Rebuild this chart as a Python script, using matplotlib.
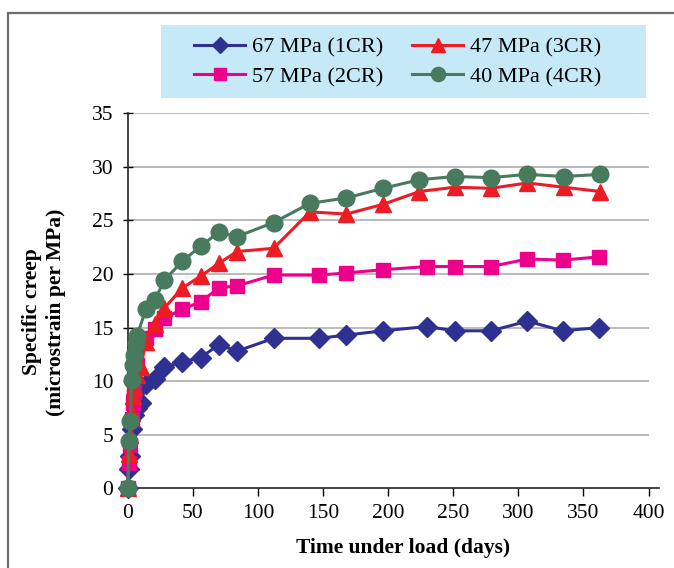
import matplotlib
matplotlib.use('Agg')
import matplotlib.pyplot as plt
from matplotlib.patches import Rectangle

plt.rcParams['font.family'] = ['Liberation Serif', 'DejaVu Serif']

# 67 MPa (1CR)
days_1cr = [0, 1, 2, 3, 5, 7, 10, 14, 21, 28, 42, 56, 70, 84, 112,
            147, 168, 196, 230, 251, 279, 307, 334, 362]
creep_1cr = [0, 1.8, 3.0, 5.5, 6.8, 7.5, 8.0, 9.7, 10.2, 11.3, 11.8, 12.2, 13.4, 12.8, 14.0,
             14.0, 14.3, 14.7, 15.1, 14.7, 14.7, 15.6, 14.7, 15.0]

# 57 MPa (2CR)
days_2cr = [0, 1, 2, 3, 4, 5, 7, 14, 21, 28, 42, 56, 70, 84, 112,
            147, 168, 196, 230, 251, 279, 307, 334, 362]
creep_2cr = [0, 2.4, 4.0, 6.5, 8.0, 9.0, 11.5, 14.0, 14.9, 15.9, 16.7, 17.4, 18.7, 18.9, 19.9,
             19.9, 20.1, 20.4, 20.7, 20.7, 20.7, 21.4, 21.3, 21.6]

# 47 MPa (3CR)
days_3cr = [0, 1, 2, 3, 4, 5, 7, 10, 14, 21, 28, 42, 56, 70, 84, 112,
            140, 168, 196, 224, 251, 279, 307, 335, 363]
creep_3cr = [0, 3.2, 5.0, 7.0, 8.6, 9.5, 10.6, 11.3, 13.7, 15.3, 16.8, 18.7, 19.8, 21.0, 22.1, 22.4,
             25.8, 25.6, 26.5, 27.7, 28.1, 28.0, 28.5, 28.1, 27.7]

# 40 MPa (4CR)
days_4cr = [0, 1, 2, 3, 4, 5, 6, 7, 14, 21, 28, 42, 56, 70, 84, 112,
            140, 168, 196, 224, 251, 279, 307, 335, 363]
creep_4cr = [0, 4.4, 6.3, 10.1, 11.5, 12.4, 13.5, 14.2, 16.7, 17.6, 19.4, 21.2, 22.6, 23.9, 23.5, 24.8,
             26.6, 27.1, 28.0, 28.8, 29.1, 29.0, 29.3, 29.1, 29.3]

labels = ['67 MPa (1CR)', '57 MPa (2CR)', '47 MPa (3CR)', '40 MPa (4CR)']
y_ticks = [0, 5, 10, 15, 20, 25, 30, 35]
x_ticks = [0, 50, 100, 150, 200, 250, 300, 350, 400]

W, H = 674, 568
fig = plt.figure(figsize=(W / 100, H / 100), dpi=100)

# grey frame round the figure, cut off at right and bottom
fig.patches.append(Rectangle((8 / W, -0.1), 1.2, 1 - 13 / H + 0.1, transform=fig.transFigure,
                             fill=False, edgecolor='#6d6d6d', linewidth=1.6))

ax = fig.add_axes([127.7 / W, 1 - 488.3 / H, (659 - 127.7) / W, (488.3 - 113.3) / H])
ax.set_xlim(0, 408)
ax.set_ylim(0, 35)

ax.hlines(y_ticks[1:], 0, 400, color='#a8a8a8', linewidth=1.1, zorder=1)

lw = 2.2
ax.plot(days_1cr, creep_1cr, color='#2e3192', marker='D', markersize=10, linewidth=lw,
        label=labels[0], clip_on=False, zorder=3)
ax.plot(days_2cr, creep_2cr, color='#ec008c', marker='s', markersize=9.5, linewidth=lw,
        label=labels[1], clip_on=False, zorder=4)
ax.plot(days_3cr, creep_3cr, color='#ed1c24', marker='^', markersize=12, linewidth=lw,
        label=labels[2], clip_on=False, zorder=5)
ax.plot(days_4cr, creep_4cr, color='#487a5e', marker='o', markersize=12, linewidth=lw,
        label=labels[3], clip_on=False, zorder=6)

for s in ['top', 'right']:
    ax.spines[s].set_visible(False)
for s in ['left', 'bottom']:
    ax.spines[s].set_color('#222222')
    ax.spines[s].set_linewidth(1.2)

ax.set_xticks(x_ticks)
ax.set_yticks(y_ticks)
ax.tick_params(axis='x', direction='out', length=5.5, width=1, pad=6, labelsize=15.5)
ax.tick_params(axis='y', direction='inout', length=6.5, width=1, pad=7, labelsize=15.5)

fig.text(403 / W, 1 - 548 / H, 'Time under load (days)', ha='center', va='center',
         fontsize=15.5, fontweight='bold')
fig.text(44 / W, 1 - 312 / H, 'Specific creep\n(microstrain per MPa)', ha='center', va='center',
         rotation=90, fontsize=15.5, fontweight='bold', linespacing=1.25)

# legend box
fig.patches.append(Rectangle((161 / W, 1 - 98 / H), (646 - 161) / W, 73 / H,
                             transform=fig.transFigure, facecolor='#c6e9f8', edgecolor='none'))
handles, lbls = ax.get_legend_handles_labels()
fig.legend(handles, lbls, ncol=2, loc='center', bbox_to_anchor=(397.5 / W, 1 - 62 / H),
           frameon=False, fontsize=16, handlelength=2.3, handletextpad=0.3,
           columnspacing=1.3, labelspacing=0.4, markerscale=0.85)

fig.savefig('out.png', dpi=100)
